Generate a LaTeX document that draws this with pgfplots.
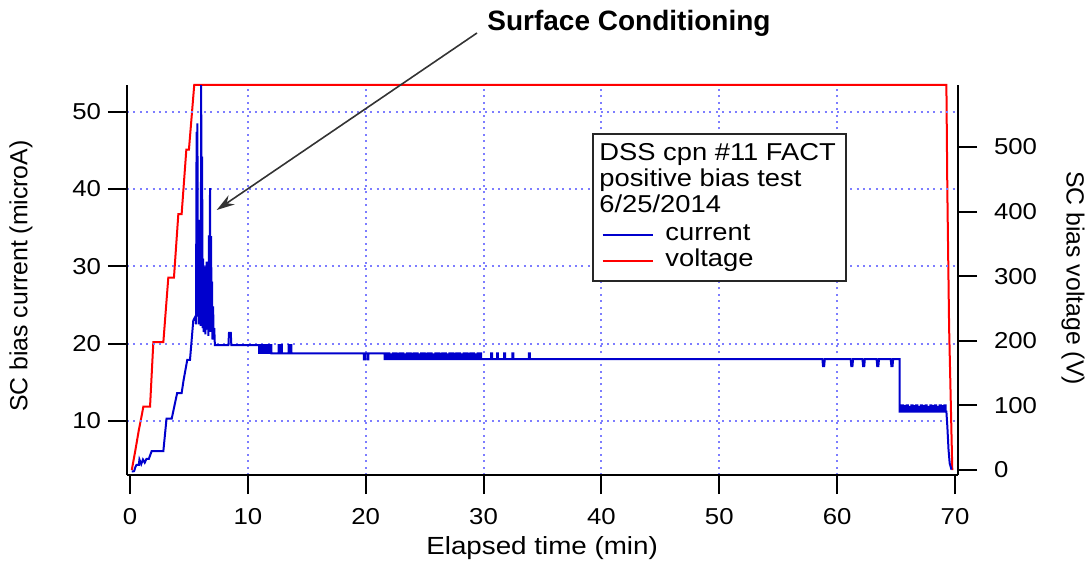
\documentclass[border=0pt]{standalone}
\usepackage{fontspec}
\setmainfont{Liberation Sans}[FakeStretch=1.12]
\newfontfamily\titlefont{Liberation Sans}
\usepackage{pgfplots}
\pgfplotsset{compat=1.18}
\usetikzlibrary{arrows.meta}
\definecolor{curblue}{RGB}{0,0,205}
\definecolor{voltred}{RGB}{255,0,0}
\definecolor{gridblue}{RGB}{125,125,255}

\begin{document}
\begin{tikzpicture}
\pgfplotsset{
  every axis/.append style={
    scale only axis, width=415.5pt, height=195pt,
    xmin=-0.255, xmax=70.255,
    tick align=outside, major tick length=9.5pt,
    axis line style={line width=1pt},
    major tick style={line width=1pt, black},
    tick label style={font=\fontsize{11.5}{13}\selectfont},
    /pgf/number format/assume math mode=true,
  }
}
% voltage, right axis
\begin{axis}[
  axis y line*=right, axis x line=none,
  ymin=-7.7, ymax=596,
  ytick={0,100,...,500},
  yticklabel style={xshift=5pt},
  ylabel={SC bias voltage (V)},
  every axis y label/.style={at={(axis description cs:1.1384,0.505)},rotate=-90,anchor=center,
    font=\titlefont\fontsize{12.4}{14}\selectfont},
  clip=false,
]
\addplot[voltred, line width=1pt] coordinates {
(0.15,0) (0.45,30) (0.75,62) (1.00,85) (1.13,98) (1.70,98) (1.98,198) (2.83,198)
(3.25,298) (3.73,298) (4.10,396) (4.38,396) (4.78,496) (5.00,496) (5.45,596)
(69.27,596) (69.35,432) (69.50,221) (69.77,0)
};
\end{axis}
% current, left axis
\begin{axis}[
  axis x line*=bottom, axis y line*=left,
  ymin=3.0, ymax=53.45,
  ytick={10,20,...,50},
  xtick={10,20,...,60},
  extra x ticks={0,70},
  extra x tick style={grid=none},
  xticklabel style={yshift=-3.5pt},
  grid=major,
  major grid style={gridblue, line width=1pt, dash pattern=on 1pt off 2.2pt},
  xlabel={Elapsed time (min)},
  ylabel={SC bias current (microA)},
  every axis x label/.style={at={(axis description cs:0.4995,-0.187)},anchor=center,
    font=\fontsize{12.4}{14}\selectfont},
  every axis y label/.style={at={(axis description cs:-0.1276,0.51)},rotate=90,anchor=center,
    font=\titlefont\fontsize{12.4}{14}\selectfont},
]
\addplot[curblue, line width=1pt] coordinates {
(0.15,3.45) (0.35,3.5) (0.45,4.0) (0.55,4.3) (0.75,4.3) (0.80,5.0) (0.95,4.4)
(1.10,5.0) (1.25,4.6) (1.40,5.1) (1.60,5.1) (1.84,6.1) (2.83,6.1) (3.10,10.3)
(3.54,10.3) (4.00,13.6) (4.38,13.6) (4.55,15.3) (4.86,17.9) (5.09,17.9) (5.37,23.0)
(5.55,23.5) (5.60,22.5) (5.65,47.4) (5.69,23.5) (5.72,48.5) (5.76,24.0) (5.80,31.0)
(5.84,22.5) (5.88,36.0) (5.92,23.0) (5.96,29.0) (6.00,22.3) (6.04,53.45) (6.08,23.5)
(6.12,44.2) (6.16,22.0) (6.20,31.0) (6.24,21.5) (6.28,27.0) (6.32,22.5) (6.36,30.0)
(6.40,21.2) (6.45,26.0) (6.50,30.6) (6.55,21.8) (6.60,28.0) (6.65,21.0) (6.70,34.0)
(6.74,22.0) (6.79,40.1) (6.84,21.5) (6.88,33.9) (6.92,22.0) (6.96,28.0) (7.00,20.5)
(7.05,24.8) (7.10,20.8) (7.15,22.0) (7.20,19.8)
(8.35,19.8) (8.40,21.4) (8.55,21.4) (8.60,19.8) (10.90,19.8)
(10.95,19.8) (10.95,18.8) (11.01,18.8) (11.01,19.8)
(11.10,19.8) (11.10,18.8) (11.16,18.8) (11.16,19.8)
(11.25,19.8) (11.25,18.8) (11.31,18.8) (11.31,19.8)
(11.40,19.8) (11.40,18.8) (11.46,18.8) (11.46,19.8)
(11.55,19.8) (11.55,18.8) (11.61,18.8) (11.61,19.8)
(11.70,19.8) (11.70,18.8) (11.76,18.8) (11.76,19.8)
(11.85,19.8) (11.85,18.8) (11.91,18.8) (11.91,19.8)
(12.00,19.8) (12.00,18.75)
(12.60,18.75) (12.60,19.8) (12.68,19.8) (12.68,18.75)
(12.80,18.75) (12.80,19.8) (12.88,19.8) (12.88,18.75)
(13.45,18.75) (13.45,19.8) (13.53,19.8) (13.53,18.75)
(13.62,18.75) (13.62,19.8) (13.70,19.8) (13.70,18.75)
(19.85,18.75) (19.85,17.95) (19.93,17.95) (19.93,18.75)
(20.15,18.75) (20.15,17.95) (20.23,17.95) (20.23,18.75)
(21.60,18.75) (21.60,18.0) (21.70,18.0) (21.70,18.75)
(21.80,18.75) (21.80,18.0) (21.90,18.0) (21.90,18.75)
(22.00,18.75) (22.00,18.0) (22.10,18.0) (22.10,18.6)
(22.20,18.6) (22.20,18.0) (22.30,18.0) (22.30,18.75)
(22.40,18.75) (22.40,18.0) (22.50,18.0) (22.50,18.75)
(22.60,18.75) (22.60,18.0) (22.70,18.0) (22.70,18.7)
(22.80,18.7) (22.80,18.0) (22.90,18.0) (22.90,18.75)
(23.00,18.75) (23.00,18.0) (23.10,18.0) (23.10,18.75)
(23.20,18.75) (23.20,18.0) (23.30,18.0) (23.30,18.6)
(23.40,18.6) (23.40,18.0) (23.50,18.0) (23.50,18.75)
(23.60,18.75) (23.60,18.0) (23.70,18.0) (23.70,18.75)
(23.80,18.75) (23.80,18.0) (23.90,18.0) (23.90,18.7)
(24.00,18.7) (24.00,18.0) (24.10,18.0) (24.10,18.75)
(24.20,18.75) (24.20,18.0) (24.30,18.0) (24.30,18.75)
(24.40,18.75) (24.40,18.0) (24.50,18.0) (24.50,18.6)
(24.60,18.6) (24.60,18.0) (24.70,18.0) (24.70,18.75)
(24.80,18.75) (24.80,18.0) (24.90,18.0) (24.90,18.75)
(25.00,18.75) (25.00,18.0) (25.10,18.0) (25.10,18.7)
(25.20,18.7) (25.20,18.0) (25.30,18.0) (25.30,18.75)
(25.40,18.75) (25.40,18.0) (25.50,18.0) (25.50,18.75)
(25.60,18.75) (25.60,18.0) (25.70,18.0) (25.70,18.6)
(25.80,18.6) (25.80,18.0) (25.90,18.0) (25.90,18.75)
(26.00,18.75) (26.00,18.0) (26.10,18.0) (26.10,18.75)
(26.20,18.75) (26.20,18.0) (26.30,18.0) (26.30,18.7)
(26.40,18.7) (26.40,18.0) (26.50,18.0) (26.50,18.75)
(26.60,18.75) (26.60,18.0) (26.70,18.0) (26.70,18.75)
(26.80,18.75) (26.80,18.0) (26.90,18.0) (26.90,18.6)
(27.00,18.6) (27.00,18.0) (27.10,18.0) (27.10,18.75)
(27.20,18.75) (27.20,18.0) (27.30,18.0) (27.30,18.75)
(27.40,18.75) (27.40,18.0) (27.50,18.0) (27.50,18.7)
(27.60,18.7) (27.60,18.0) (27.70,18.0) (27.70,18.75)
(27.80,18.75) (27.80,18.0) (27.90,18.0) (27.90,18.75)
(28.00,18.75) (28.00,18.0) (28.10,18.0) (28.10,18.6)
(28.20,18.6) (28.20,18.0) (28.30,18.0) (28.30,18.75)
(28.40,18.75) (28.40,18.0) (28.50,18.0) (28.50,18.75)
(28.60,18.75) (28.60,18.0) (28.70,18.0) (28.70,18.7)
(28.80,18.7) (28.80,18.0) (28.90,18.0) (28.90,18.75)
(29.00,18.75) (29.00,18.0) (29.10,18.0) (29.10,18.75)
(29.20,18.75) (29.20,18.0) (29.30,18.0) (29.30,18.6)
(29.40,18.6) (29.40,18.0) (29.50,18.0) (29.50,18.75)
(29.60,18.75) (29.60,18.0) (29.70,18.0) (29.70,18.75)
(29.80,18.75) (29.80,18.0) (30.00,18.0)
(30.65,18.0) (30.65,18.75) (30.72,18.75) (30.72,18.0)
(31.15,18.0) (31.15,18.75) (31.22,18.75) (31.22,18.0)
(31.75,18.0) (31.75,18.75) (31.82,18.75) (31.82,18.0)
(32.45,18.0) (32.45,18.75) (32.52,18.75) (32.52,18.0)
(33.85,18.0) (33.85,18.75) (33.92,18.75) (33.92,18.0)
(58.75,18.0) (58.80,17.1) (58.90,17.1) (58.95,18.0)
(61.15,18.0) (61.20,17.1) (61.30,17.1) (61.35,18.0)
(62.15,18.0) (62.20,17.1) (62.30,17.1) (62.35,18.0)
(63.35,18.0) (63.40,17.1) (63.50,17.1) (63.55,18.0)
(64.55,18.0) (64.60,17.1) (64.70,17.1) (64.75,18.0)
(65.30,18.0) (65.30,11.2)
(65.50,11.2) (65.50,12.0) (65.60,12.0) (65.60,11.2)
(65.70,11.2) (65.70,11.9) (65.80,11.9) (65.80,11.2)
(65.90,11.2) (65.90,12.0) (66.00,12.0) (66.00,11.2)
(66.10,11.2) (66.10,11.8) (66.20,11.8) (66.20,11.2)
(66.30,11.2) (66.30,12.0) (66.40,12.0) (66.40,11.2)
(66.50,11.2) (66.50,11.9) (66.60,11.9) (66.60,11.2)
(66.70,11.2) (66.70,12.0) (66.80,12.0) (66.80,11.2)
(66.90,11.2) (66.90,11.8) (67.00,11.8) (67.00,11.2)
(67.10,11.2) (67.10,12.0) (67.20,12.0) (67.20,11.2)
(67.30,11.2) (67.30,11.9) (67.40,11.9) (67.40,11.2)
(67.50,11.2) (67.50,12.0) (67.60,12.0) (67.60,11.2)
(67.70,11.2) (67.70,11.8) (67.80,11.8) (67.80,11.2)
(67.90,11.2) (67.90,12.0) (68.00,12.0) (68.00,11.2)
(68.10,11.2) (68.10,11.9) (68.20,11.9) (68.20,11.2)
(68.30,11.2) (68.30,12.0) (68.40,12.0) (68.40,11.2)
(68.50,11.2) (68.50,11.8) (68.60,11.8) (68.60,11.2)
(68.70,11.2) (68.70,12.0) (68.80,12.0) (68.80,11.2)
(68.90,11.2) (68.90,11.9) (69.00,11.9) (69.00,11.2)
(69.10,11.2) (69.10,12.0) (69.20,12.0) (69.20,11.2)
(69.27,11.2) (69.35,9.3) (69.45,6.3) (69.55,4.5) (69.70,3.7)
};
\end{axis}
% annotations in image pixel units
\begin{scope}[x=0.5pt,y=-0.5pt,shift={(-63.5pt,237.5pt)}]
\draw[line width=0.9pt, black!85, fill=white] (592.7,134) rectangle (846,280.7);
\begin{scope}[every node/.style={anchor=base west, inner sep=0pt, font=\fontsize{12.2}{14}\selectfont}]
\node at (599,160.7) {DSS cpn \#11 FACT};
\node at (599,186.7) {positive bias test};
\node at (599,212.7) {6/25/2014};
\node at (665,240) {current};
\node at (665,266.7) {voltage};
\end{scope}
\draw[curblue, line width=1pt] (602.7,235) -- (652.7,235);
\draw[voltred, line width=1pt] (602.7,261) -- (652.7,261);
\node[anchor=base west, inner sep=0pt, font=\titlefont\bfseries\fontsize{14}{16}\selectfont] at (487,31) {Surface Conditioning};
\draw[line width=0.8pt, black!80, -{Stealth[length=9pt,width=5.5pt]}] (477,33) -- (216.7,210);
\pgfresetboundingbox
\path[use as bounding box] (0,0) rectangle (1092,563);
\end{scope}
\end{tikzpicture}
\end{document}
